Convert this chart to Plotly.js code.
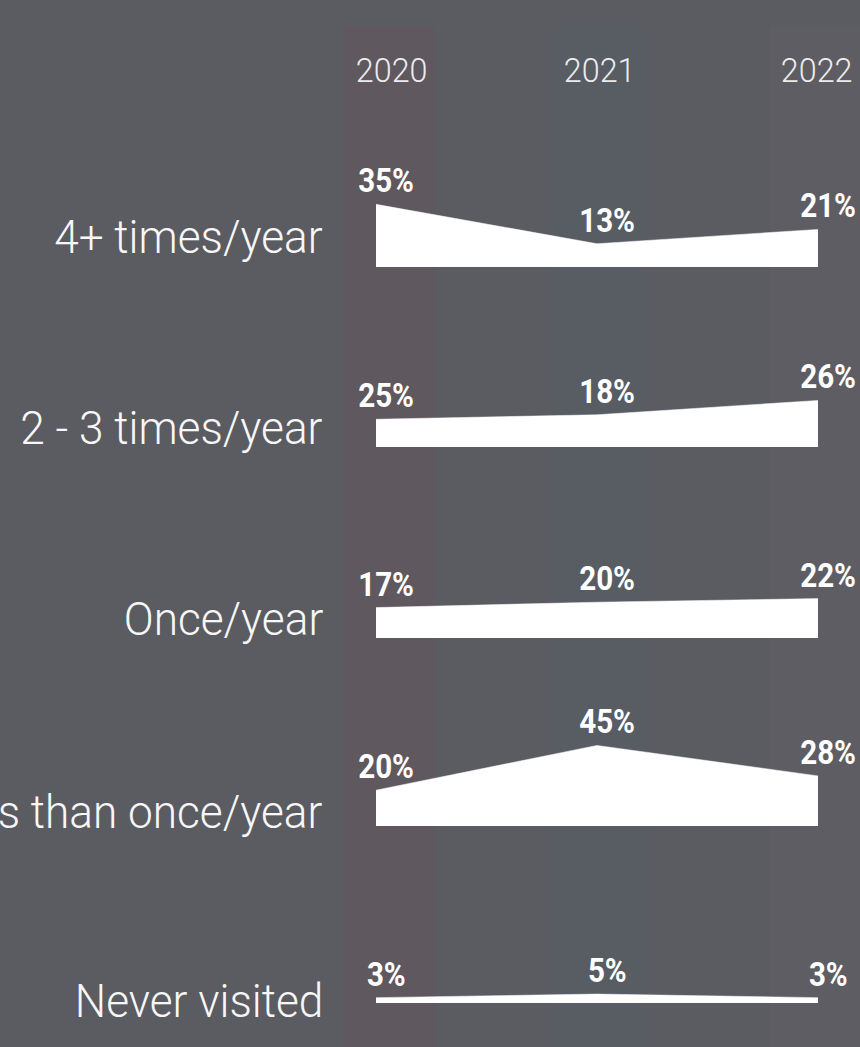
<!DOCTYPE html>
<html>
<head>
<meta charset="utf-8">
<script src="https://cdn.plot.ly/plotly-3.0.1.min.js"></script>
<style>
html,body{margin:0;padding:0;background:#5b5c61;}
#chart{width:860px;height:1047px;}
</style>
</head>
<body>
<div id="chart"></div>
<script>
// ---- data ----
const years = ['2020', '2021', '2022'];
const categories = ['4+ times/year', '2 - 3 times/year', 'Once/year', 'Less than once/year', 'Never visited'];
// printed labels (%)
const labels4plus = [35, 13, 21];
const labels2to3 = [25, 18, 26];
const labelsOnce = [17, 20, 22];
const labelsLess = [20, 45, 28];
const labelsNever = [3, 5, 3];
// drawn heights (the 2020 point of "2 - 3 times/year" is drawn at ~15.5)
const drawn4plus = [35, 13, 21];
const drawn2to3 = [15.5, 18, 26];
const drawnOnce = [17, 20, 22];
const drawnLess = [20, 45, 28];
const drawnNever = [3, 5, 3];

const labelRows = [labels4plus, labels2to3, labelsOnce, labelsLess, labelsNever];
const drawnRows = [drawn4plus, drawn2to3, drawnOnce, drawnLess, drawnNever];

// ---- layout helpers ----
const W = 860, H = 1047;
const x0px = 376, unit = 221;           // pixel of 2020, px per year
const pxPerPct = 1.79;
const rowBase = [267, 447, 638, 826, 1003];   // baseline pixels
const rowLabelY = [236, 427, 618, 811, 1000];
const rowBoxPx = 100;
const px2x = p => (p - x0px) / unit;
const py2paper = p => 1 - p / H;

const bands = [
  {a: 343, b: 435, color: '#5f585e'},
  {a: 552, b: 642, color: '#585c63'},
  {a: 770, b: 862, color: '#5d5d63'}
];
const yearLabelX = [391, 599, 816];

const traces = [];
const annotations = [];
const squeeze = {};   // annotation index -> [scaleX, origin]
const layout = {
  width: W, height: H,
  margin: {l: 0, r: 0, t: 0, b: 0, pad: 0},
  paper_bgcolor: '#5b5c61',
  plot_bgcolor: 'rgba(0,0,0,0)',
  showlegend: false,
  xaxis: {range: [px2x(0), px2x(W)], visible: false, fixedrange: true},
  shapes: bands.map(b => ({
    type: 'rect', xref: 'x', yref: 'paper',
    x0: px2x(b.a), x1: px2x(b.b), y0: 0, y1: py2paper(27),
    fillcolor: b.color, line: {width: 0}, layer: 'below'
  })),
  annotations: annotations,
  font: {family: 'Roboto, sans-serif', color: '#ffffff'}
};

drawnRows.forEach((vals, i) => {
  const yName = i === 0 ? 'y' : 'y' + (i + 1);
  const axName = i === 0 ? 'yaxis' : 'yaxis' + (i + 1);
  const bottom = py2paper(rowBase[i]);
  const top = py2paper(rowBase[i] - rowBoxPx);
  layout[axName] = {
    domain: [bottom, top], range: [0, rowBoxPx / pxPerPct],
    visible: false, fixedrange: true, anchor: 'x'
  };
  traces.push({
    type: 'scatter', mode: 'lines',
    x: [0, 1, 2], y: vals, xaxis: 'x', yaxis: yName,
    fill: 'tozeroy', fillcolor: '#ffffff',
    line: {color: '#ffffff', width: 0.5},
    hoverinfo: 'skip'
  });
  vals.forEach((v, j) => {
    squeeze[annotations.length] = [0.87, 'center'];
    annotations.push({
      xref: 'x', yref: yName, x: j, y: v,
      text: labelRows[i][j] + '%', showarrow: false,
      xanchor: 'center', yanchor: 'bottom', xshift: 10, yshift: 2,
      font: {family: 'Roboto', size: 34, weight: 700, color: '#ffffff'}
    });
  });
  squeeze[annotations.length] = [0.94, 'right'];
  annotations.push({
    xref: 'paper', yref: 'paper', x: 325 / W, y: py2paper(rowLabelY[i]),
    text: categories[i], showarrow: false, xanchor: 'right', yanchor: 'middle',
    font: {family: 'Roboto', size: 47, weight: 300, color: '#f7f7f7'}
  });
});

years.forEach((yr, j) => {
  squeeze[annotations.length] = [0.95, 'center'];
  annotations.push({
    xref: 'paper', yref: 'paper', x: yearLabelX[j] / W, y: py2paper(70),
    text: yr, showarrow: false, xanchor: 'center', yanchor: 'middle',
    font: {family: 'Roboto', size: 34, weight: 300, color: '#ececec'}
  });
});

Plotly.newPlot('chart', traces, layout, {staticPlot: true, displayModeBar: false}).then(gd => {
  // condense the text horizontally (the reference uses a condensed typeface)
  gd.querySelectorAll('g.annotation').forEach(g => {
    const idx = +g.getAttribute('data-index');
    const s = squeeze[idx];
    const t = g.querySelector('text.annotation-text');
    if (!s || !t) return;
    t.style.transformBox = 'fill-box';
    t.style.transformOrigin = s[1] + ' center';
    t.style.transform = 'scaleX(' + s[0] + ')';
  });
});
</script>
</body>
</html>
